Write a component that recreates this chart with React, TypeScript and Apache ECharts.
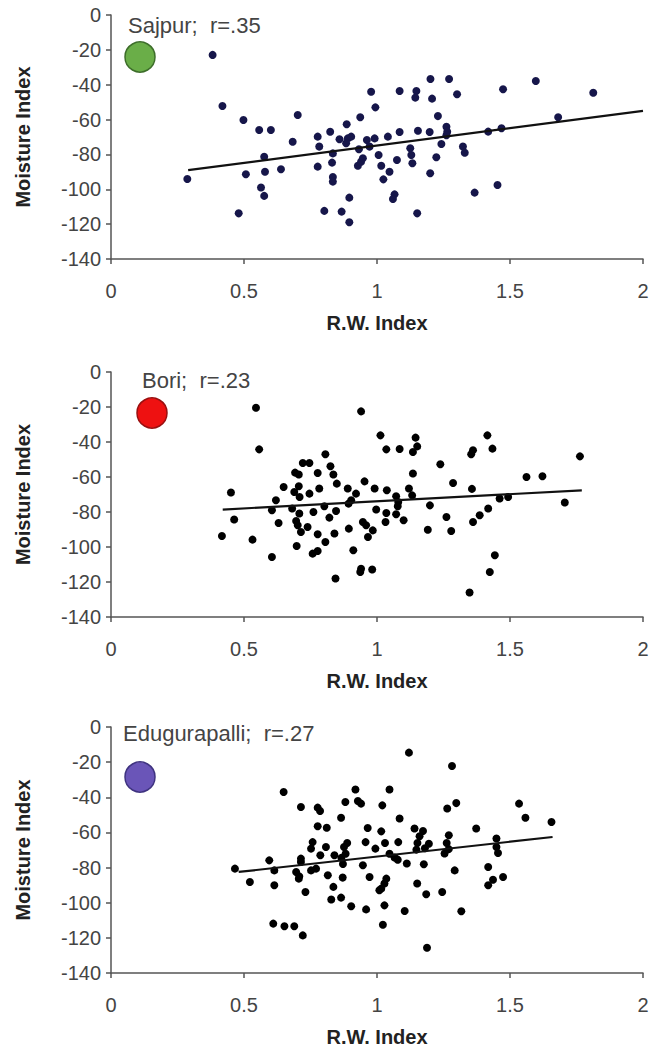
import React, { useEffect, useRef } from 'react';
import * as echarts from 'echarts';

const xTicks = [0, 0.5, 1, 1.5, 2];
const yTicks = [-140, -120, -100, -80, -60, -40, -20, 0];
const siteNames = ['Sajpur', 'Bori', 'Edugurapalli'];
const siteR = ['.35', '.23', '.27'];
const xTitle = 'R.W. Index';
const yTitle = 'Moisture Index';

const sajpur: number[][] = [
  [0.382, -22.9], [0.287, -94.1], [0.419, -52.2], [0.498, -60.2], [0.557, -66], [0.601, -66],
  [0.702, -57.4], [0.683, -72.7], [0.777, -69.8], [0.824, -67], [0.783, -75.5], [0.576, -81.3],
  [0.507, -91.4], [0.579, -89.9], [0.639, -88.5], [0.777, -87], [0.564, -99], [0.576, -103.8],
  [0.48, -113.8], [0.802, -112.4], [1.201, -36.7], [1.271, -36.7], [1.597, -37.9], [0.978, -44],
  [1.085, -43.6], [1.148, -43.6], [1.144, -47.4], [1.207, -48], [1.301, -45.5], [1.474, -42.6],
  [1.813, -44.6], [0.994, -53], [0.937, -58.7], [0.886, -62.7], [1.229, -58], [1.681, -58.7],
  [0.859, -71.3], [0.89, -70.8], [0.903, -69.8], [0.884, -73.6], [0.962, -71.7], [0.991, -70.8],
  [0.972, -75.5], [0.932, -77], [1.041, -69.8], [1.085, -67.1], [1.154, -66.4], [1.198, -67.1],
  [1.261, -64.1], [1.264, -67], [1.261, -69], [1.242, -74], [1.323, -75.5], [1.33, -79],
  [1.418, -66.9], [1.468, -65], [0.834, -79.4], [0.831, -84.7], [0.834, -93], [0.834, -95.6],
  [0.928, -86.5], [0.94, -84.2], [0.947, -82.2], [1.006, -80.3], [1.016, -86.5], [1.047, -89.9],
  [1.024, -94.3], [1.075, -83.2], [1.125, -76.5], [1.129, -80.3], [1.133, -85.1], [1.223, -81.6],
  [1.2, -90.8], [0.896, -104.8], [1.066, -102.9], [1.06, -105.6], [0.867, -112.8], [0.896, -118.9],
  [1.151, -113.8], [1.367, -101.9], [1.453, -97.5]
];

const bori: number[][] = [
  [0.545, -20.4], [0.557, -44.2], [0.451, -68.9], [0.463, -84.3], [0.417, -93.7], [0.532, -95.8],
  [0.605, -105.7], [0.62, -73.3], [0.605, -79], [0.649, -65.7], [0.63, -86.3], [0.692, -57.5],
  [0.706, -58.6], [0.721, -52], [0.746, -52], [0.777, -57.7], [0.806, -47], [0.706, -65.3],
  [0.689, -68.6], [0.709, -71.4], [0.746, -69.5], [0.783, -66.6], [0.681, -78], [0.708, -80.9],
  [0.761, -80], [0.696, -85.1], [0.702, -87.6], [0.739, -88.6], [0.714, -91.4], [0.777, -92.7],
  [0.806, -97.1], [0.698, -99.4], [0.758, -103.8], [0.777, -102.3], [0.802, -76.7], [0.821, -83.2],
  [0.84, -92.3], [0.825, -53.9], [0.836, -58.6], [0.849, -63.8], [0.846, -79.4], [0.89, -66.6],
  [0.921, -69.5], [0.893, -75.2], [0.903, -73.3], [0.894, -89.5], [0.953, -62.5], [0.94, -22.5],
  [0.991, -66.6], [1.037, -67.6], [1.072, -71], [1.08, -74.3], [1.078, -76.7], [1.12, -66.6],
  [1.132, -70.5], [1.199, -76.2], [1.135, -58], [1.238, -52.7], [1.013, -36.2], [1.035, -44.2],
  [1.085, -44], [1.145, -37.5], [1.151, -42.5], [1.135, -45.7], [0.947, -85.7], [0.959, -87.6],
  [0.984, -90.5], [0.966, -94.3], [0.997, -78.6], [1.035, -80.6], [1.032, -85.7], [1.072, -81.3],
  [1.1, -84.7], [1.191, -90.1], [1.261, -82.9], [1.279, -90.9], [0.911, -101.9], [0.94, -112.4],
  [0.937, -114.3], [0.982, -112.9], [0.844, -118], [1.286, -63.4], [1.415, -36.2], [1.434, -43.8],
  [1.361, -44.7], [1.354, -47], [1.763, -48.2], [1.562, -60], [1.622, -59.6], [1.357, -66.8],
  [1.461, -72.3], [1.493, -71.4], [1.706, -74.6], [1.418, -78], [1.386, -81.9], [1.361, -85.7],
  [1.443, -104.7], [1.424, -114.3], [1.348, -126]
];

const edugurapalli: number[][] = [
  [0.649, -37], [0.714, -45.5], [0.777, -45.9], [0.786, -47.8], [0.777, -56.5], [0.811, -57.3],
  [0.758, -65.5], [0.752, -69.2], [0.808, -68.3], [0.787, -73], [0.84, -73], [0.714, -74.9],
  [0.714, -76.8], [0.595, -75.9], [0.466, -80.6], [0.614, -81.6], [0.696, -82.5], [0.708, -85],
  [0.706, -86.3], [0.752, -81.6], [0.771, -80.6], [0.815, -84.4], [0.522, -88.2], [0.614, -90.1],
  [0.731, -93.9], [0.828, -98.2], [0.61, -111.9], [0.652, -113.4], [0.689, -113.4], [0.721, -118.6],
  [1.12, -14.6], [1.282, -22.2], [0.919, -35.6], [1.047, -35.6], [0.881, -42.7], [0.928, -42.1],
  [0.94, -43.6], [1.02, -44.6], [1.298, -43.3], [1.264, -46.4], [1.534, -43.6], [0.865, -51.6],
  [1.085, -52.1], [1.558, -51.6], [1.656, -54.1], [0.965, -57.5], [1.016, -59.4], [1.141, -57.8],
  [1.173, -59.2], [1.373, -57.8], [1.27, -61.6], [1.449, -63.5], [0.957, -65.5], [0.994, -69.2],
  [1.03, -66], [1.08, -65.5], [0.888, -66], [0.876, -68.3], [0.882, -72.1], [0.866, -74.5],
  [0.872, -78], [1.16, -62.2], [1.152, -66], [1.195, -66.4], [1.18, -69], [1.148, -69.8],
  [1.262, -66], [1.27, -69.5], [1.254, -72], [1.449, -68.3], [1.455, -71.7], [1.047, -72.1],
  [1.066, -74.3], [1.078, -75.5], [1.112, -77.7], [0.947, -78.7], [1.176, -78.1], [1.292, -81.6],
  [1.418, -79.7], [1.436, -86.9], [1.418, -90.1], [1.474, -85.4], [0.871, -85.7], [0.972, -85.4],
  [1.035, -86.3], [1.028, -89.1], [1.016, -92], [1.009, -92.9], [1.151, -89.1], [1.185, -95.2],
  [1.245, -93.9], [0.836, -91], [0.865, -97.1], [0.903, -102], [0.959, -103.8], [1.028, -101.5],
  [1.104, -104.7], [1.317, -104.9], [1.022, -112.5], [1.188, -125.6]
];

const sajpurTrend: number[][] = [[0.29, -89], [2.0, -55]];
const boriTrend: number[][] = [[0.42, -78.6], [1.77, -67.6]];
const eduTrend: number[][] = [[0.48, -82.5], [1.66, -62.6]];

const FONT = 'Liberation Sans, Arial, sans-serif';

export default function App() {
  const ref = useRef<HTMLDivElement>(null);
  useEffect(() => {
    if (!ref.current) return;
    const chart = echarts.init(ref.current, undefined, { renderer: 'svg' });
    const gridTops = [15, 372, 727];
    const gridHeights = [244, 245, 246];
    const pointSets = [sajpur, bori, edugurapalli];
    const trends = [sajpurTrend, boriTrend, eduTrend];
    const dotColors = ['#16164a', '#000000', '#000000'];
    const markerFill = ['#6aae48', '#ee1111', '#6a55b8'];
    const markerStroke = ['#3d6e2a', '#9a0f0f', '#3f3380'];
    const markerPos = [[140, 57], [152, 413], [140, 777]];
    const titlePos = [[128, 25], [142, 380], [123, 733]];

    const grids = gridTops.map((t, i) => ({ left: 111, width: 532, top: t, height: gridHeights[i] }));
    const xAxes = grids.map((_, i) => ({
      gridIndex: i, type: 'value', min: xTicks[0], max: xTicks[xTicks.length - 1], interval: xTicks[1] - xTicks[0],
      axisLine: { onZero: false, lineStyle: { color: '#555', width: 1.5 } },
      axisTick: { show: true, length: 5, lineStyle: { color: '#555', width: 1.5 } },
      axisLabel: { margin: 22, fontSize: 20, color: '#444', fontFamily: FONT },
      splitLine: { show: false },
      name: xTitle, nameLocation: 'middle', nameGap: 54,
      nameTextStyle: { fontWeight: 'bold', fontSize: 20, color: '#222', fontFamily: FONT },
    }));
    const yAxes = grids.map((_, i) => ({
      gridIndex: i, type: 'value', min: yTicks[0], max: yTicks[yTicks.length - 1], interval: yTicks[1] - yTicks[0],
      axisLine: { show: true, onZero: false, lineStyle: { color: '#555', width: 1.5 } },
      axisTick: { show: true, length: 5, lineStyle: { color: '#555', width: 1.5 } },
      axisLabel: { margin: 10, fontSize: 20, color: '#444', fontFamily: FONT },
      splitLine: { show: false },
      name: yTitle, nameLocation: 'middle', nameGap: 78, nameRotate: 90,
      nameTextStyle: { fontWeight: 'bold', fontSize: 20, color: '#222', fontFamily: FONT },
    }));
    const series: any[] = [];
    pointSets.forEach((pts, i) => {
      series.push({
        type: 'scatter', xAxisIndex: i, yAxisIndex: i, data: pts, symbolSize: 8,
        itemStyle: { color: dotColors[i], opacity: 1 }, z: 3,
      });
      series.push({
        type: 'line', xAxisIndex: i, yAxisIndex: i, data: trends[i], symbol: 'none',
        lineStyle: { color: '#111', width: 2.2 }, z: 4,
      });
    });
    const graphic: any[] = [];
    siteNames.forEach((n, i) => {
      graphic.push({
        type: 'text', x: titlePos[i][0], y: titlePos[i][1],
        style: { text: `${n};  r=${siteR[i]}`, fontSize: 22, fontFamily: FONT, fill: '#444', verticalAlign: 'middle', textAlign: 'left' },
      });
      graphic.push({
        type: 'circle', shape: { cx: markerPos[i][0], cy: markerPos[i][1], r: 15 },
        style: { fill: markerFill[i], stroke: markerStroke[i], lineWidth: 1.5 },
      });
    });
    chart.setOption({
      animation: false,
      backgroundColor: '#fff',
      grid: grids,
      xAxis: xAxes,
      yAxis: yAxes,
      series,
      graphic,
    });
    return () => chart.dispose();
  }, []);
  return <div ref={ref} style={{ position: 'absolute', left: 0, top: 0, width: 652, height: 1049 }} />;
}
